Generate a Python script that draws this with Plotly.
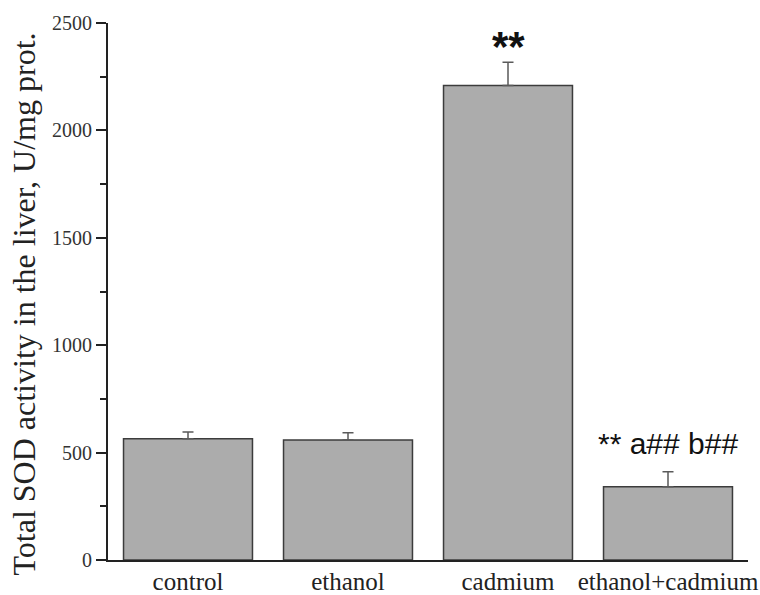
import plotly.graph_objects as go

categories = ["control", "ethanol", "cadmium", "ethanol+cadmium"]
means = [565, 559, 2209, 341]
errors = [31, 33, 108, 70]
labels = ["", "", "**", "** a## b##"]
y_ticks = [0, 500, 1000, 1500, 2000, 2500]
y_title = "Total SOD activity in the liver, U/mg prot."

fig = go.Figure()
fig.add_trace(go.Bar(
    x=categories, y=means,
    width=0.806,
    marker=dict(color="#acacac", line=dict(color="#3c3c3c", width=1.5)),
    error_y=dict(type="data", array=errors, arrayminus=[0]*len(errors),
                 symmetric=False, color="#5a5a5a", thickness=1.5, width=5.5),
))

# significance annotations
fig.add_annotation(x=categories[2], y=means[2] + errors[2], xref="x", yref="y",
                   text="<b>" + labels[2] + "</b>", showarrow=False,
                   yanchor="bottom", yshift=-10,
                   font=dict(family="Liberation Sans", size=42, color="#111"))
fig.add_annotation(x=categories[3], y=means[3] + errors[3], xref="x", yref="y",
                   text=labels[3], showarrow=False,
                   yanchor="bottom", yshift=10,
                   font=dict(family="Liberation Sans", size=30, color="#111"))

# y-axis title as rotated text
fig.add_annotation(x=0, y=0.5, xref="paper", yref="paper", text=y_title,
                   showarrow=False, textangle=-90, xanchor="center", yanchor="middle",
                   xshift=-85, yshift=-13,
                   font=dict(family="Liberation Serif", size=32, color="#222"))

fig.update_layout(
    width=760, height=595,
    margin=dict(l=108, r=12, t=23, b=35),
    plot_bgcolor="white", paper_bgcolor="white",
    showlegend=False, bargap=0.2,
    font=dict(family="Liberation Serif", color="#222"),
)
fig.update_xaxes(
    range=[-0.5, 3.5], showline=True, linecolor="#222", linewidth=2,
    ticks="", showgrid=False, zeroline=False, automargin=False,
    ticklabelstandoff=-2,
    tickfont=dict(family="Liberation Serif", size=25, color="#222"),
)
fig.update_yaxes(
    range=[0, 2500], tickvals=y_ticks, ticktext=[str(v) for v in y_ticks],
    showline=True, linecolor="#222", linewidth=2, automargin=False,
    ticks="outside", ticklen=10, tickwidth=2, tickcolor="#222",
    minor=dict(ticks="outside", ticklen=6, tickwidth=2, tickcolor="#222", dtick=250),
    showgrid=False, zeroline=False,
    tickfont=dict(family="Liberation Serif", size=20, color="#333"),
)

fig.write_html("out.html", config={"displayModeBar": False},
               post_script="document.body.style.margin='0';")
